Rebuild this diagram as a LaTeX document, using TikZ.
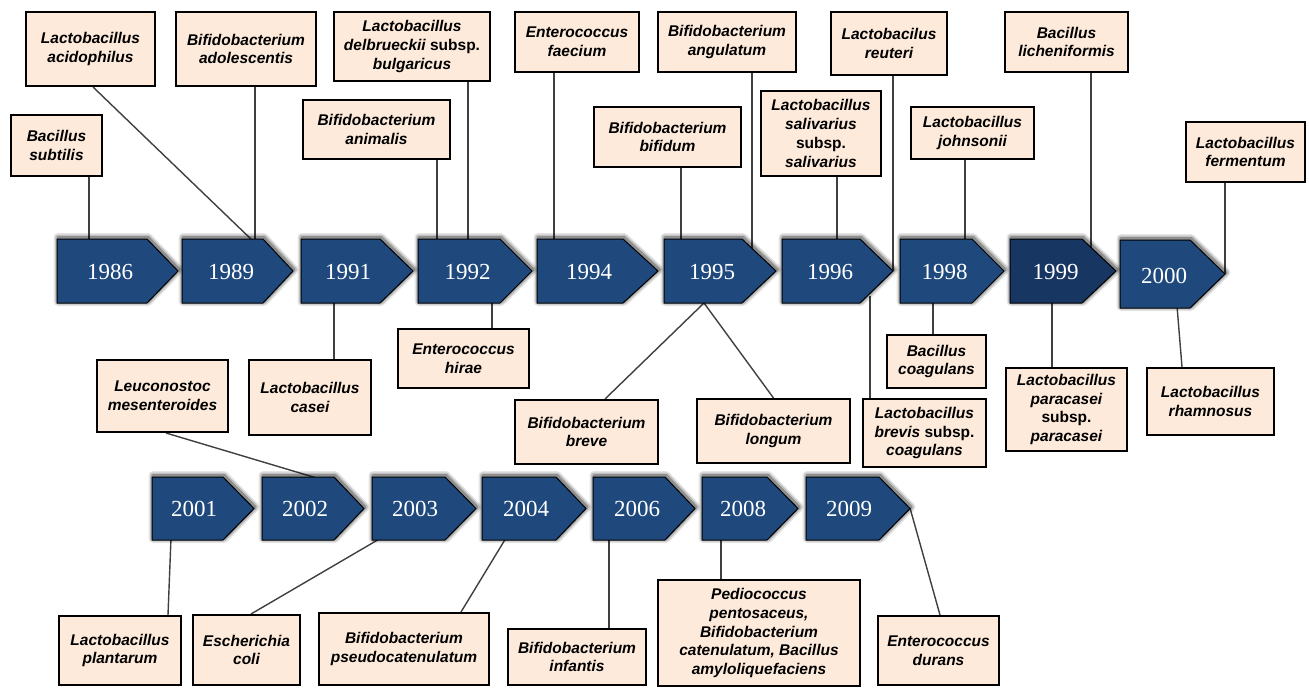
\documentclass[tikz,border=0pt]{standalone}
\usepackage{fontspec}
\setmainfont{Liberation Serif}
\setsansfont{Liberation Sans}
\definecolor{arrowblue}{RGB}{31,73,125}
\definecolor{arrowdark}{RGB}{23,54,98}
\definecolor{boxfill}{RGB}{253,234,218}
\definecolor{linkgray}{RGB}{64,64,64}
\pgfdeclarelayer{background}
\pgfsetlayers{background,main}
\tikzset{
  sbox/.style={draw=black, line width=2pt, fill=boxfill, inner sep=0pt, align=center,
    font=\sffamily\bfseries\itshape\fontsize{15.5}{18.7}\selectfont},
  link/.style={draw=linkgray, line width=1.4pt},
  yr/.style={fill=arrowblue, draw=black, line width=1pt},
  halo/.style={draw=black, line join=round, shift={(1,-1.5)}},
  yrtext/.style={text=white, font=\fontsize{23}{23}\selectfont, inner sep=0pt}
}
\newcommand\up[1]{{\upshape #1}}
\newcommand\yarr[6][arrowblue]{%
  \path[halo, draw opacity=0.10, line width=9pt] (#2,#5) -- (#3,#5) -- (#4,{(#5+#6)/2}) -- (#3,#6) -- (#2,#6) -- cycle;
  \path[halo, draw opacity=0.16, line width=6pt] (#2,#5) -- (#3,#5) -- (#4,{(#5+#6)/2}) -- (#3,#6) -- (#2,#6) -- cycle;
  \path[halo, draw opacity=0.25, line width=3pt] (#2,#5) -- (#3,#5) -- (#4,{(#5+#6)/2}) -- (#3,#6) -- (#2,#6) -- cycle;
  \path[yr, fill=#1] (#2,#5) -- (#3,#5) -- (#4,{(#5+#6)/2}) -- (#3,#6) -- (#2,#6) -- cycle;}
\begin{document}
\begin{tikzpicture}[x=1pt,y=-1pt]
\begin{pgfonlayer}{background}
\fill[white] (0,0) rectangle (1309,688);
\end{pgfonlayer}
\useasboundingbox (0,0) rectangle (1309,688);

% ---------- boxes ----------
\node[sbox, minimum width=91, minimum height=61] (subtilis) at (56.5,145.5) {Bacillus\\subtilis};
\node[sbox, minimum width=129, minimum height=74] (acid) at (90.5,49) {Lactobacillus\\acidophilus};
\node[sbox, minimum width=140, minimum height=74] (adol) at (246,49) {Bifidobacterium\\adolescentis};
\node[sbox, minimum width=156, minimum height=69] (bulg) at (412,46.5) {Lactobacillus\\delbrueckii \up{subsp.}\\bulgaricus};
\node[sbox, minimum width=147, minimum height=59] (anim) at (376.5,129.5) {Bifidobacterium\\animalis};
\node[sbox, minimum width=124, minimum height=60] (faec) at (577,42) {Enterococcus\\faecium};
\node[sbox, minimum width=138, minimum height=60] (angu) at (727,42) {Bifidobacterium\\angulatum};
\node[sbox, minimum width=147, minimum height=60] (bifi) at (667.5,137) {Bifidobacterium\\bifidum};
\node[sbox, minimum width=120, minimum height=85] (saliv) at (821,133.5) {Lactobacillus\\salivarius\\\up{subsp.}\\salivarius};
\node[sbox, minimum width=116, minimum height=63] (reut) at (889,43.5) {Lactobacilus\\reuteri};
\node[sbox, minimum width=123, minimum height=60] (lich) at (1066.5,42) {Bacillus\\licheniformis};
\node[sbox, minimum width=123, minimum height=52] (john) at (972.5,133) {Lactobacillus\\johnsonii};
\node[sbox, minimum width=119, minimum height=60] (ferm) at (1245.5,152) {Lactobacillus\\fermentum};

\node[sbox, minimum width=122, minimum height=75] (casei) at (310,397.5) {Lactobacillus\\casei};
\node[sbox, minimum width=131, minimum height=59] (hirae) at (463.5,358.5) {Enterococcus\\hirae};
\node[sbox, minimum width=131, minimum height=72] (leuco) at (162.5,396) {Leuconostoc\\mesenteroides};
\node[sbox, minimum width=143, minimum height=64] (breve) at (586.5,432) {Bifidobacterium\\breve};
\node[sbox, minimum width=153, minimum height=64] (longum) at (773.5,431) {Bifidobacterium\\longum};
\node[sbox, minimum width=123, minimum height=68] (brevis) at (924.5,433) {Lactobacillus\\brevis \up{subsp.}\\coagulans};
\node[sbox, minimum width=99, minimum height=53] (bcoag) at (936.5,361.5) {Bacillus\\coagulans};
\node[sbox, minimum width=121, minimum height=83] (parac) at (1066.5,409.5) {Lactobacillus\\paracasei\\\up{subsp.}\\paracasei};
\node[sbox, minimum width=127, minimum height=67] (rham) at (1210.5,401.5) {Lactobacillus\\rhamnosus};

\node[sbox, minimum width=122, minimum height=69] (plant) at (120,650.5) {Lactobacillus\\plantarum};
\node[sbox, minimum width=107, minimum height=70] (coli) at (246.5,650) {Escherichia\\coli};
\node[sbox, minimum width=170, minimum height=72] (pseudo) at (404,649) {Bifidobacterium\\pseudocatenulatum};
\node[sbox, minimum width=138, minimum height=56] (infant) at (577,657) {Bifidobacterium\\infantis};
\node[sbox, minimum width=202, minimum height=106] (pedio) at (759,633) {Pediococcus\\pentosaceus,\\Bifidobacterium\\catenulatum, Bacillus\\amyloliquefaciens};
\node[sbox, minimum width=121, minimum height=69] (durans) at (938.5,650.5) {Enterococcus\\durans};

% ---------- year arrows ----------
\yarr{57}{147}{178}{239}{303}
\yarr{182}{263}{293}{239}{303}
\yarr{301}{380}{413}{239}{303}
\yarr{418}{500}{532}{239}{303}
\yarr{537}{623}{658}{239}{303}
\yarr{664}{742}{776}{239}{303}
\yarr{782}{860}{893}{239}{303}
\yarr{900}{972}{1004}{239}{303}
\yarr[arrowdark]{1010}{1082}{1116}{239}{303}
\yarr{1120}{1190}{1225}{240}{308}

\yarr{152}{223}{254}{477}{540}
\yarr{262}{334}{364}{477}{540}
\yarr{372}{445}{476}{477}{540}
\yarr{482}{556}{586}{477}{540}
\yarr{593}{665}{695}{477}{540}
\yarr{702}{767}{798}{477}{540}
\yarr{806}{879}{910}{477}{540}

\node[yrtext] (y1986) at (110,272) {1986};
\node[yrtext] (y1989) at (231,272) {1989};
\node[yrtext] (y1991) at (348,272) {1991};
\node[yrtext] (y1992) at (467.5,272) {1992};
\node[yrtext] (y1994) at (589,272) {1994};
\node[yrtext] (y1995) at (712,272) {1995};
\node[yrtext] (y1996) at (830,272) {1996};
\node[yrtext] (y1998) at (944.5,272) {1998};
\node[yrtext] (y1999) at (1055.5,272) {1999};
\node[yrtext] (y2000) at (1164,276) {2000};

\node[yrtext] (y2001) at (194,509) {2001};
\node[yrtext] (y2002) at (305,509) {2002};
\node[yrtext] (y2003) at (415,509) {2003};
\node[yrtext] (y2004) at (526,509) {2004};
\node[yrtext] (y2006) at (637,509) {2006};
\node[yrtext] (y2008) at (743,509) {2008};
\node[yrtext] (y2009) at (849,509) {2009};

% ---------- attach points on arrows ----------
\coordinate (a86) at (89,241);
\coordinate (a89a) at (253,241);
\coordinate (a89b) at (255,241);
\coordinate (a92a) at (437,241);
\coordinate (a92b) at (468,241);
\coordinate (a94) at (554,241);
\coordinate (a95a) at (681,241);
\coordinate (a95b) at (752,249);
\coordinate (a95c) at (704,303);
\coordinate (a96a) at (837,241);
\coordinate (a96tip) at (893,271);
\coordinate (a96b) at (870,296);
\coordinate (a98a) at (965,241);
\coordinate (a98b) at (933,301);
\coordinate (a99a) at (1091,248);
\coordinate (a99b) at (1052,301);
\coordinate (a00tip) at (1225,274);
\coordinate (a00b) at (1177,306);
\coordinate (a91b) at (334,301);
\coordinate (a92c) at (492,301);
\coordinate (r02) at (320,479);
\coordinate (r01) at (171,538);
\coordinate (r03) at (381,538);
\coordinate (r04) at (506,538);
\coordinate (r06) at (609,538);
\coordinate (r08) at (721,538);
\coordinate (r09) at (910,508);

% ---------- connectors ----------
\begin{pgfonlayer}{background}
\draw[link] (subtilis.south -| a86) -- (a86);
\draw[link] ([xshift=2.5pt]acid.south) -- (a89a);
\draw[link] (adol.south -| a89b) -- (a89b);
\draw[link] (anim.south -| a92a) -- (a92a);
\draw[link] (bulg.south -| a92b) -- (a92b);
\draw[link] (faec.south -| a94) -- (a94);
\draw[link] (bifi.south -| a95a) -- (a95a);
\draw[link] (angu.south -| a95b) -- (a95b);
\draw[link] (saliv.south -| a96a) -- (a96a);
\draw[link] (reut.south -| a96tip) -- (a96tip);
\draw[link] (john.south -| a98a) -- (a98a);
\draw[link] (lich.south -| a99a) -- (a99a);
\draw[link] (ferm.south -| a00tip) -- (a00tip);

\draw[link] (a91b) -- (casei.north -| a91b);
\draw[link] (a92c) -- (hirae.north -| a92c);
\draw[link] (a95c) -- ([xshift=18.5pt]breve.north);
\draw[link] (a95c) -- (longum.north);
\draw[link] (a96b) -- (brevis.north -| a96b);
\draw[link] (a98b) -- (bcoag.north -| a98b);
\draw[link] (a99b) -- (parac.north -| a99b);
\draw[link] (a00b) -- ([xshift=-28.5pt]rham.north);

\draw[link] ([xshift=3.5pt]leuco.south) -- (r02);
\draw[link] (r01) -- ([xshift=48pt]plant.north);
\draw[link] (r03) -- ([xshift=4.5pt]coli.north);
\draw[link] (r04) -- ([xshift=57pt]pseudo.north);
\draw[link] (r06) -- (infant.north -| r06);
\draw[link] (r08) -- (pedio.north -| r08);
\draw[link] (r09) -- ([xshift=1.5pt]durans.north);
\end{pgfonlayer}
\end{tikzpicture}
\end{document}
